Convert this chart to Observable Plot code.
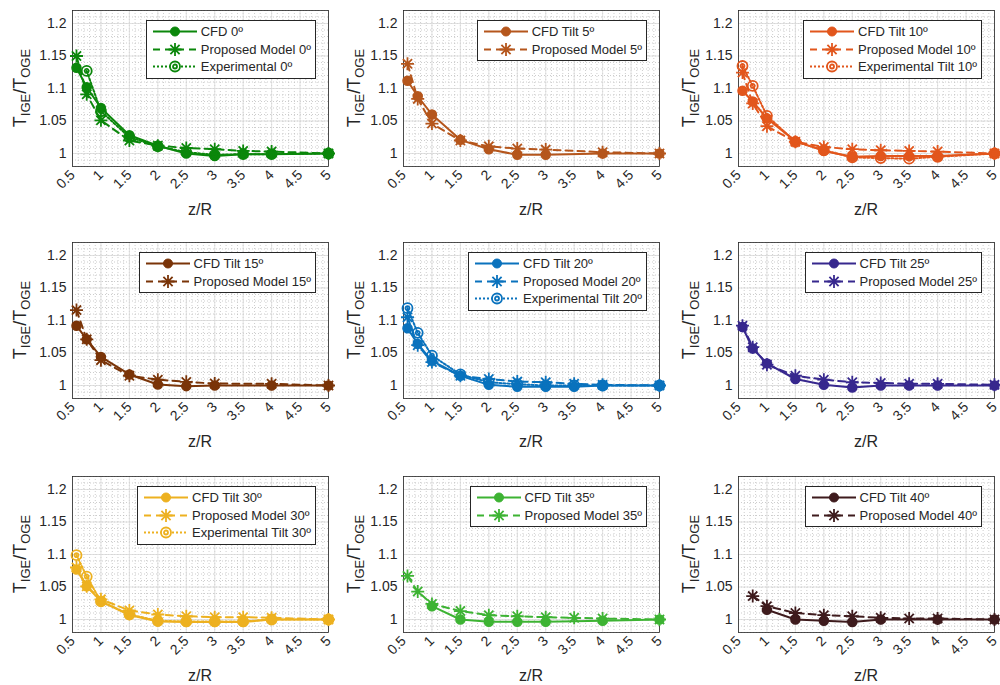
<!DOCTYPE html>
<html><head><meta charset="utf-8">
<script src="https://cdn.jsdelivr.net/npm/d3@7"></script>
<script src="https://cdn.jsdelivr.net/npm/@observablehq/plot@0.6"></script>
<style>
body{margin:0;background:#fff;font-family:"Liberation Sans",Arial,Helvetica,sans-serif;}
#fig{position:relative;width:1000px;height:685px;overflow:hidden;background:#fff;}
.panel{position:absolute;}
.panel svg{overflow:visible;}
.legend{position:absolute;background:#fff;border:1px solid #262626;padding:2px 4px 2px 5px;font-size:13px;color:#262626;}
.legend .row{display:flex;align-items:center;height:17.5px;white-space:nowrap;}
.legend svg{margin-right:3px;}
.ylab{position:absolute;font-size:18px;color:#262626;white-space:nowrap;transform:translate(-50%,-50%) rotate(-90deg);}
.ylab sub{font-size:13px;vertical-align:-4px;line-height:0;}
.xlab{position:absolute;font-size:16px;color:#262626;white-space:nowrap;transform:translate(-50%,-50%);}
</style>
</head><body><div id="fig"></div>
<script>
// ---- data ----
const zR = [0.57, 0.75, 1, 1.5, 2, 2.5, 3, 3.5, 4, 5];
const xTickVals = [0.5, 1, 1.5, 2, 2.5, 3, 3.5, 4, 4.5, 5];
const yTickVals = [1, 1.05, 1.1, 1.15, 1.2];

const colors = ["#0b870b", "#b5561c", "#e2561c", "#7a3408", "#0a72bd", "#37288e", "#edb120", "#3db333", "#3e1b1d"];

const cfdNames = ["CFD 0º", "CFD Tilt 5º", "CFD Tilt 10º", "CFD Tilt 15º", "CFD Tilt 20º", "CFD Tilt 25º", "CFD Tilt 30º", "CFD Tilt 35º", "CFD Tilt 40º"];
const modNames = ["Proposed Model 0º", "Proposed Model 5º", "Proposed Model 10º", "Proposed Model 15º", "Proposed Model 20º", "Proposed Model 25º", "Proposed Model 30º", "Proposed Model 35º", "Proposed Model 40º"];
const expNames = ["Experimental 0º", null, "Experimental Tilt 10º", null, "Experimental Tilt 20º", null, "Experimental Tilt 30º", null, null];

const cfd0  = [1.132, 1.102, 1.070, 1.028, 1.012, 1.000, 0.996, 0.999, 0.999, 1.000];
const mod0  = [1.150, 1.091, 1.051, 1.020, 1.012, 1.0085, 1.0066, 1.004, 1.003, 1.000];
const exp0  = [null, 1.127, 1.065, 1.025, 1.011, 1.002, 0.998, 0.999, 0.999, 1.000];

const cfd5  = [1.112, 1.088, 1.060, 1.021, 1.0066, 0.998, 0.998, null, 1.000, 1.000];
const mod5  = [1.138, 1.084, 1.046, 1.020, 1.011, 1.0076, 1.006, null, 1.002, 1.000];

const cfd10 = [1.0965, 1.080, 1.054, 1.019, 1.004, 0.995, 0.996, 0.996, 0.996, 1.000];
const mod10 = [1.1245, 1.077, 1.042, 1.018, 1.010, 1.0066, 1.005, 1.004, 1.003, 1.000];
const exp10 = [1.1346, 1.104, 1.058, 1.018, 1.005, 0.994, 0.993, 0.992, 0.995, 1.000];

const cfd15 = [1.092, 1.071, 1.044, 1.017, 1.0015, 0.999, 1.000, null, 1.000, 1.000];
const mod15 = [1.116, 1.071, 1.039, 1.015, 1.009, 1.0056, 1.003, null, 1.0026, 1.000];

const cfd20 = [1.088, 1.064, 1.038, 1.015, 1.001, 0.998, 0.998, 0.998, 1.000, 1.000];
const mod20 = [1.105, 1.062, 1.036, 1.015, 1.010, 1.006, 1.005, 1.0026, 1.001, 1.000];
const exp20 = [1.119, 1.081, 1.046, 1.017, 1.005, 1.002, 1.000, 1.000, 1.000, 1.000];

const cfd25 = [1.090, 1.057, 1.034, 1.010, 1.001, 0.997, 1.000, 1.000, 1.000, 1.000];
const mod25 = [1.092, 1.059, 1.032, 1.015, 1.009, 1.005, 1.004, 1.0026, 1.0026, 1.001];

const cfd30 = [1.077, 1.051, 1.028, 1.0067, 0.997, 0.996, 0.996, 0.996, 1.000, 1.000];
const mod30 = [1.080, 1.051, 1.031, 1.014, 1.0077, 1.005, 1.0036, 1.0036, 1.0026, 1.000];
const exp30 = [1.099, 1.066, 1.028, 1.008, 0.998, 0.997, 0.997, 0.997, 1.000, 1.000];

const cfd35 = [null, null, 1.0205, 1.000, 0.9964, 0.9964, 0.9964, null, 0.998, 1.000];
const mod35 = [1.067, 1.043, 1.024, 1.013, 1.0067, 1.005, 1.0036, 1.0026, 1.0015, 1.000];

const cfd40 = [null, null, 1.015, 1.000, 0.998, 0.996, 1.000, null, 1.000, 1.000];
const mod40 = [null, 1.036, 1.0205, 1.010, 1.0067, 1.005, 1.0026, 1.0015, 1.0015, 1.000];

const cfdAll = [cfd0, cfd5, cfd10, cfd15, cfd20, cfd25, cfd30, cfd35, cfd40];
const modAll = [mod0, mod5, mod10, mod15, mod20, mod25, mod30, mod35, mod40];
const expAll = [exp0, null, exp10, null, exp20, null, exp30, null, null];

// ---- helpers ----
const rows = vals => zR.map((z, i) => ({z, v: vals[i]})).filter(d => d.v != null);
const fmt = d => String(+d.toFixed(2));
const aster = {draw(ctx, size) {
  const r = Math.sqrt(size / Math.PI), q = r * Math.SQRT1_2;
  ctx.moveTo(-r, 0); ctx.lineTo(r, 0);
  ctx.moveTo(0, -r); ctx.lineTo(0, r);
  ctx.moveTo(-q, -q); ctx.lineTo(q, q);
  ctx.moveTo(-q, q); ctx.lineTo(q, -q);
}};
const bull = {draw(ctx, size) {
  const r = Math.sqrt(size / Math.PI), r2 = r * 0.4;
  ctx.moveTo(r, 0); ctx.arc(0, 0, r, 0, 2 * Math.PI);
  ctx.moveTo(r2, 0); ctx.arc(0, 0, r2, 0, 2 * Math.PI);
}};
const minorX = d3.range(0, 46).map(i => +(0.5 + i * 0.1).toFixed(2));
const minorY = d3.range(0, 25).map(i => +(0.98 + i * 0.01).toFixed(2));

const fig = document.getElementById("fig");
const colLeft = [0, 331, 666];
const rowTop = [0, 232, 466];
const FRAME_TOP = 10, FRAME_H = 156, ML = 72, MR = 5, W = 333;

function legendSample(kind, c) {
  let line = "", mk = "";
  if (kind === "cfd") {
    line = `<line x1="1" x2="45" y1="8.5" y2="8.5" stroke="${c}" stroke-width="2"/>`;
    mk = `<circle cx="23" cy="8.5" r="4.5" fill="${c}" stroke="${c}"/>`;
  } else if (kind === "mod") {
    line = `<line x1="1" x2="45" y1="8.5" y2="8.5" stroke="${c}" stroke-width="2" stroke-dasharray="7,5"/>`;
    const r = 6.5, q = r * Math.SQRT1_2;
    mk = `<path d="M${23-r},8.5H${23+r}M23,${8.5-r}V${8.5+r}M${23-q},${8.5-q}L${23+q},${8.5+q}M${23-q},${8.5+q}L${23+q},${8.5-q}" stroke="${c}" stroke-width="1.8" fill="none"/>`;
  } else {
    line = `<line x1="1" x2="45" y1="8.5" y2="8.5" stroke="${c}" stroke-width="2" stroke-dasharray="2,2"/>`;
    mk = `<circle cx="23" cy="8.5" r="5" fill="#fff" stroke="${c}" stroke-width="1.8"/><circle cx="23" cy="8.5" r="2" fill="none" stroke="${c}" stroke-width="1.8"/>`;
  }
  return `<svg width="46" height="17">${line}${mk}</svg>`;
}

for (let i = 0; i < 9; i++) {
  const col = i % 3, row = Math.floor(i / 3);
  const H = row === 2 ? 219 : 228;
  const c = colors[i];
  const marks = [
    Plot.ruleX(minorX, {stroke: "#b8b8b8", strokeWidth: 0.7, strokeDasharray: "1,2"}),
    Plot.ruleY(minorY, {stroke: "#b8b8b8", strokeWidth: 0.7, strokeDasharray: "1,2"}),
    Plot.ruleX(xTickVals, {stroke: "#d9d9d9", strokeWidth: 0.8}),
    Plot.ruleY(yTickVals, {stroke: "#d9d9d9", strokeWidth: 0.8}),
    Plot.frame({stroke: "#262626", strokeWidth: 0.8}),
    Plot.line(rows(cfdAll[i]), {x: "z", y: "v", stroke: c, strokeWidth: 2}),
    Plot.dot(rows(cfdAll[i]), {x: "z", y: "v", r: 4.5, fill: c, stroke: c}),
    Plot.line(rows(modAll[i]), {x: "z", y: "v", stroke: c, strokeWidth: 2, strokeDasharray: "7,5"}),
    Plot.dot(rows(modAll[i]), {x: "z", y: "v", r: 6.5, symbol: aster, fill: "none", stroke: c, strokeWidth: 1.8})
  ];
  if (expAll[i]) {
    marks.push(
      Plot.line(rows(expAll[i]), {x: "z", y: "v", stroke: c, strokeWidth: 2, strokeDasharray: "2,2"}),
      Plot.dot(rows(expAll[i]), {x: "z", y: "v", r: 5, symbol: bull, fill: "none", stroke: c, strokeWidth: 1.8})
    );
  }
  const chart = Plot.plot({
    width: W, height: H,
    marginLeft: ML, marginRight: MR, marginTop: FRAME_TOP, marginBottom: H - FRAME_TOP - FRAME_H,
    style: {fontSize: "14px", fontFamily: '"Liberation Sans",Arial,sans-serif', color: "#262626", background: "transparent"},
    x: {domain: [0.5, 5], ticks: xTickVals, tickFormat: fmt, tickRotate: -45, tickSize: 0, tickPadding: 6, label: null},
    y: {domain: [0.98, 1.22], ticks: yTickVals, tickFormat: fmt, tickSize: 0, tickPadding: 6, label: null},
    marks
  });
  const div = document.createElement("div");
  div.className = "panel";
  div.style.left = colLeft[col] + "px";
  div.style.top = rowTop[row] + "px";
  div.style.width = W + "px";
  div.style.height = H + "px";
  div.appendChild(chart);

  const yl = document.createElement("div");
  yl.className = "ylab";
  yl.innerHTML = "T<sub>IGE</sub>/T<sub>OGE</sub>";
  yl.style.left = (col === 0 ? 20 : 23) + "px";
  yl.style.top = (FRAME_TOP + FRAME_H / 2) + "px";
  div.appendChild(yl);

  const xl = document.createElement("div");
  xl.className = "xlab";
  xl.textContent = "z/R";
  xl.style.left = (ML + (W - ML - MR) / 2) + "px";
  xl.style.top = (FRAME_TOP + FRAME_H + 44) + "px";
  div.appendChild(xl);

  const lg = document.createElement("div");
  lg.className = "legend";
  lg.style.right = "17px";
  lg.style.top = "20px";
  let html = `<div class="row">${legendSample("cfd", c)}<span>${cfdNames[i]}</span></div>`;
  html += `<div class="row">${legendSample("mod", c)}<span>${modNames[i]}</span></div>`;
  if (expNames[i]) html += `<div class="row">${legendSample("exp", c)}<span>${expNames[i]}</span></div>`;
  lg.innerHTML = html;
  div.appendChild(lg);

  fig.appendChild(div);
}
</script>
</body></html>
